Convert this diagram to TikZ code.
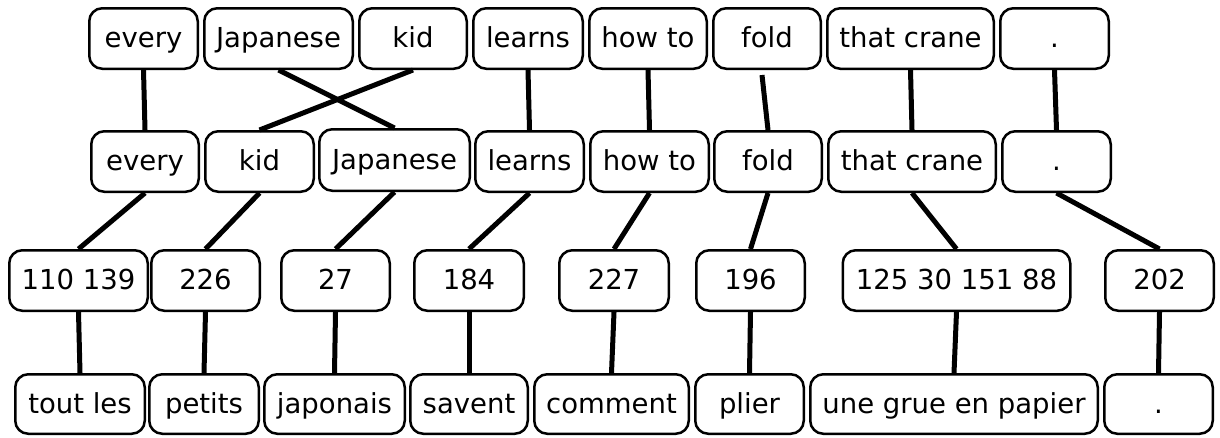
\documentclass[tikz,border=0pt]{standalone}
\usepackage{fontspec}
\setmainfont{DejaVu Sans}
\usetikzlibrary{positioning}
\tikzset{
  wbox/.style={draw, rectangle, rounded corners=13pt, line width=2.5pt, minimum height=60.5pt,
    inner sep=0pt, text height=18pt, text depth=0pt, align=center, font=\fontsize{27.5}{33}\selectfont},
  link/.style={line width=5pt},
}
\begin{document}
\begin{tikzpicture}[x=1pt, y=-1pt]
\useasboundingbox (0,0) rectangle (1220,437);

% English source
\node[wbox, minimum width=108.5pt] (every1) at (143.5,38.5) {every};
\node[wbox, minimum width=148.5pt] (japanese1) at (278.5,38.5) {Japanese};
\node[wbox, minimum width=107.5pt] (kid1) at (413,38.5) {kid};
\node[wbox, minimum width=109.5pt] (learns1) at (528,38.5) {learns};
\node[wbox, minimum width=117.5pt] (howto1) at (648,38.5) {how to};
\node[wbox, minimum width=107.5pt] (fold1) at (767,38.5) {fold};
\node[wbox, minimum width=166.5pt] (crane1) at (910.5,38.5) {that crane};
\node[wbox, minimum width=108.5pt] (dot1) at (1054.5,38.5) {.};

% reordered English
\node[wbox, minimum width=107.5pt] (every2) at (145,161.5) {every};
\node[wbox, minimum width=108.5pt] (kid2) at (259.5,161.5) {kid};
\node[wbox, minimum width=150.5pt, minimum height=61.5pt] (japanese2) at (394.5,160) {Japanese};
\node[wbox, minimum width=108.5pt] (learns2) at (529.5,161.5) {learns};
\node[wbox, minimum width=118.5pt] (howto2) at (649.5,161.5) {how to};
\node[wbox, minimum width=107.5pt] (fold2) at (768,161.5) {fold};
\node[wbox, minimum width=167.5pt] (crane2) at (912,161.5) {that crane};
\node[wbox, minimum width=108.5pt] (dot2) at (1056.5,161.5) {.};

% phrase ids
\node[wbox, minimum width=138.5pt] (id110) at (78.5,280.5) {110 139};
\node[wbox, minimum width=108.5pt] (id226) at (205.5,280.5) {226};
\node[wbox, minimum width=108.5pt] (id27) at (335.5,280.5) {27};
\node[wbox, minimum width=109.5pt] (id184) at (469,280.5) {184};
\node[wbox, minimum width=109.5pt] (id227) at (614,280.5) {227};
\node[wbox, minimum width=108.5pt] (id196) at (750.5,280.5) {196};
\node[wbox, minimum width=227.5pt] (id125) at (956.5,280.5) {125 30 151 88};
\node[wbox, minimum width=108.5pt] (id202) at (1159.5,280.5) {202};

% French output
\node[wbox, minimum width=129.5pt, minimum height=59.5pt] (tout) at (80,404) {tout les};
\node[wbox, minimum width=109.5pt, minimum height=59.5pt] (petits) at (204,404) {petits};
\node[wbox, minimum width=140.5pt, minimum height=59.5pt] (japonais) at (334.5,404) {japonais};
\node[wbox, minimum width=117.5pt, minimum height=59.5pt] (savent) at (469,404) {savent};
\node[wbox, minimum width=154.5pt, minimum height=59.5pt] (comment) at (611.5,404) {comment};
\node[wbox, minimum width=108.5pt, minimum height=59.5pt] (plier) at (749.5,404) {plier};
\node[wbox, minimum width=287.5pt, minimum height=59.5pt] (grue) at (954,404) {une grue en papier};
\node[wbox, minimum width=108.5pt, minimum height=59.5pt] (dotfr) at (1158.5,404) {.};

\coordinate (foldstart) at ([xshift=-5pt, yshift=-5pt]fold1.south);

\draw[link] (every1.south) -- (every2.north);
\draw[link] (japanese1.south) -- (japanese2.north);
\draw[link] (kid1.south) -- (kid2.north);
\draw[link] (learns1.south) -- (learns2.north);
\draw[link] (howto1.south) -- (howto2.north);
\draw[link] (foldstart) -- (fold2.north);
\draw[link] (crane1.south) -- (crane2.north);
\draw[link] (dot1.south) -- (dot2.north);

\draw[link] (every2.south) -- (id110.north);
\draw[link] (kid2.south) -- (id226.north);
\draw[link] (japanese2.south) -- (id27.north);
\draw[link] (learns2.south) -- (id184.north);
\draw[link] (howto2.south) -- (id227.north);
\draw[link] (fold2.south) -- (id196.north);
\draw[link] (crane2.south) -- (id125.north);
\draw[link] (dot2.south) -- (id202.north);

\draw[link] (id110.south) -- (tout.north);
\draw[link] (id226.south) -- (petits.north);
\draw[link] (id27.south) -- (japonais.north);
\draw[link] (id184.south) -- (savent.north);
\draw[link] (id227.south) -- (comment.north);
\draw[link] (id196.south) -- (plier.north);
\draw[link] (id125.south) -- (grue.north);
\draw[link] (id202.south) -- (dotfr.north);

\end{tikzpicture}
\end{document}
